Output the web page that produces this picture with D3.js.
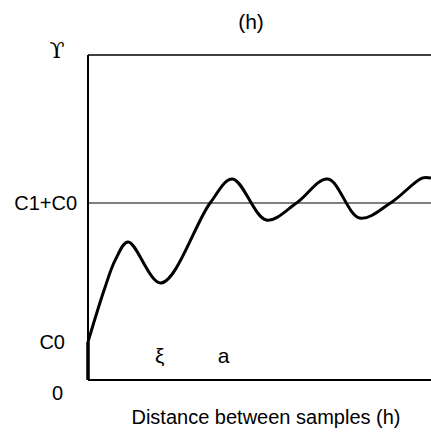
<!DOCTYPE html>
<html>
<head>
<meta charset="utf-8">
<script src="https://cdn.jsdelivr.net/npm/d3@7"></script>
<style>
  body { margin: 0; background: #fff; }
  svg text { font-family: "Liberation Sans", Arial, sans-serif; fill: #000; }
</style>
</head>
<body>
<svg id="chart"></svg>
<script>
// semivariogram values (sill = 1)
const nugget = 0.215;
const sill = 1.0;
const hValues = [0, 0.47, 0.80, 1.17, 2.13, 3.56, 4.21, 5.20, 6.08, 6.99, 7.92, 8.86, 9.74, 10.0];
const gammaValues = [0.215, 0.508, 0.680, 0.780, 0.548, 1.0, 1.136, 0.904, 1.0, 1.136, 0.915, 1.006, 1.141, 1.141];

const yTickValues = [0, nugget, sill];
const yTickLabels = ["0", "C0", "C1+C0"];
const yLabelRight = [63, 65, 77];
const innerLabels = [{text: "ξ", h: 2.09}, {text: "a", h: 3.95}];

const [w, h] = [431, 435];
const margin = {top: 55, left: 88, bottom: 55};
const svg = d3.select("#chart").attr("width", w).attr("height", h);

const x = d3.scaleLinear().domain([0, 10]).range([margin.left, w]);
const y = d3.scaleLinear().domain([0, 1]).range([h - margin.bottom, 203]);
const yTop = margin.top;

// frame: top line, left axis, bottom axis
svg.append("line").attr("x1", x(0)).attr("x2", w).attr("y1", yTop).attr("y2", yTop)
  .attr("stroke", "#000").attr("stroke-width", 1.5);
svg.append("line").attr("x1", x(0)).attr("x2", x(0)).attr("y1", yTop).attr("y2", y(0))
  .attr("stroke", "#000").attr("stroke-width", 2);
svg.append("line").attr("x1", x(0)).attr("x2", w).attr("y1", y(0)).attr("y2", y(0))
  .attr("stroke", "#000").attr("stroke-width", 2);

// sill line
svg.append("line").attr("x1", x(0)).attr("x2", w).attr("y1", y(sill)).attr("y2", y(sill))
  .attr("stroke", "#000").attr("stroke-width", 1.2);

// y labels
const yAxis = d3.axisLeft(y).tickValues(yTickValues).tickSize(0)
  .tickFormat((d, i) => yTickLabels[i]);
const gy = svg.append("g").attr("transform", `translate(${x(0)},0)`).call(yAxis);
gy.select(".domain").remove();
gy.selectAll("text").style("font-size", "20px").attr("font-family", null)
  .attr("x", (d, i) => yLabelRight[i] - x(0));
gy.selectAll(".tick").filter(d => d === 0).select("text").attr("dy", "0.95em");

// nugget jump
svg.append("line").attr("x1", x(0)).attr("x2", x(0)).attr("y1", y(0)).attr("y2", y(nugget))
  .attr("stroke", "#000").attr("stroke-width", 3.5);

// curve
const line = d3.line().x((d, i) => x(hValues[i])).y(d => y(d)).curve(d3.curveCatmullRom.alpha(0.5));
svg.append("path").datum(gammaValues).attr("d", line)
  .attr("fill", "none").attr("stroke", "#000").attr("stroke-width", 3);

// labels inside the plot
svg.selectAll(".inner").data(innerLabels).enter().append("text")
  .attr("x", d => x(d.h)).attr("y", 363).attr("text-anchor", "middle")
  .style("font-size", "21px").text(d => d.text);

// gamma symbol, title, x-axis title
svg.append("text").attr("x", 57).attr("y", 58).attr("text-anchor", "middle")
  .style("font-size", "22px").style("font-family", "DejaVu Serif").text("ϒ");
svg.append("text").attr("x", 251).attr("y", 29).attr("text-anchor", "middle")
  .style("font-size", "21px").text("(h)");
svg.append("text").attr("x", 266).attr("y", 424).attr("text-anchor", "middle")
  .style("font-size", "20px").text("Distance between samples (h)");
</script>
</body>
</html>
